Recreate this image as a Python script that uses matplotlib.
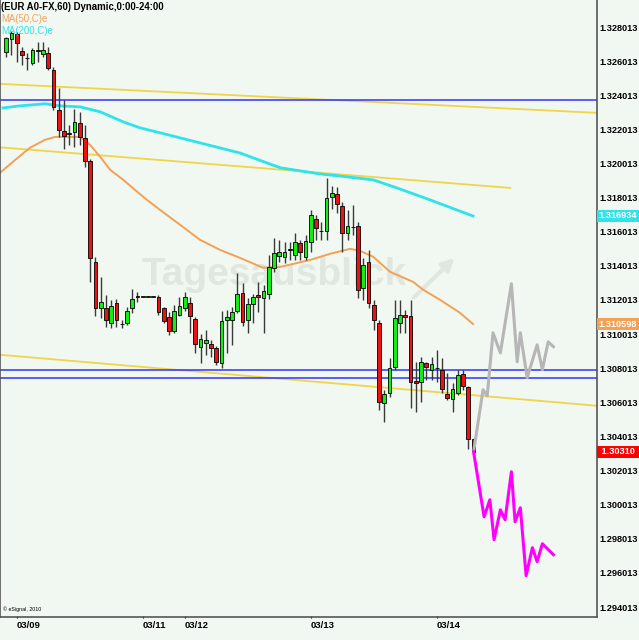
import numpy as np
import matplotlib.pyplot as plt

plt.rcParams['font.family'] = ['Liberation Sans', 'DejaVu Sans']

# Hourly EUR candles (open, high, low, close)
opens = [1.32655, 1.32731, 1.32761, 1.32661, 1.32620, 1.32591, 1.32661, 1.32644, 1.32649, 1.32550,
         1.32315, 1.32192, 1.32175, 1.32186, 1.32239, 1.32151, 1.32017, 1.31425, 1.31155, 1.31155,
         1.31067, 1.31184, 1.31061, 1.31067, 1.31155, 1.31220, 1.31220, 1.31220, 1.31220, 1.31220,
         1.31155, 1.31102, 1.31020, 1.31114, 1.31155, 1.31184, 1.31091, 1.30927, 1.30950, 1.30944,
         1.30921, 1.30833, 1.31085, 1.31085, 1.31138, 1.31243, 1.31085, 1.31179, 1.31231, 1.31214,
         1.31237, 1.31390, 1.31460, 1.31454, 1.31495, 1.31466, 1.31536, 1.31454, 1.31542, 1.31677,
         1.31607, 1.31606, 1.31806, 1.31823, 1.31753, 1.31595, 1.31630, 1.31636, 1.31272, 1.31425,
         1.31173, 1.31067, 1.30598, 1.30657, 1.30809, 1.31067, 1.31114, 1.31108, 1.30727, 1.30721,
         1.30833, 1.30792, 1.30804, 1.30792, 1.30651, 1.30622, 1.30657, 1.30768, 1.30692, 1.30387]
highs = [1.32743, 1.32778, 1.32772, 1.32685, 1.32649, 1.32679, 1.32714, 1.32714, 1.32685, 1.32567,
         1.32444, 1.32374, 1.32228, 1.32321, 1.32304, 1.32228, 1.32028, 1.31454, 1.31337, 1.31231,
         1.31202, 1.31208, 1.31085, 1.31161, 1.31266, 1.31249, 1.31220, 1.31220, 1.31220, 1.31231,
         1.31161, 1.31132, 1.31173, 1.31220, 1.31249, 1.31220, 1.31102, 1.31003, 1.31026, 1.30968,
         1.30932, 1.31138, 1.31143, 1.31161, 1.31360, 1.31300, 1.31214, 1.31237, 1.31307, 1.31290,
         1.31466, 1.31565, 1.31554, 1.31542, 1.31542, 1.31595, 1.31554, 1.31583, 1.31729, 1.31700,
         1.31659, 1.31917, 1.31870, 1.31864, 1.31776, 1.31729, 1.31759, 1.31659, 1.31448, 1.31495,
         1.31202, 1.31085, 1.30675, 1.30862, 1.31202, 1.31202, 1.31143, 1.31202, 1.30839, 1.30868,
         1.30839, 1.30868, 1.30909, 1.30862, 1.30774, 1.30716, 1.30792, 1.30792, 1.30698, 1.30393]
lows = [1.32626, 1.32638, 1.32597, 1.32579, 1.32550, 1.32579, 1.32597, 1.32626, 1.32550, 1.32315,
        1.32157, 1.32087, 1.32110, 1.32099, 1.32110, 1.31981, 1.31307, 1.31108, 1.31097, 1.31044,
        1.31038, 1.31044, 1.31038, 1.31055, 1.31126, 1.31190, 1.31220, 1.31220, 1.31220, 1.31114,
        1.31067, 1.30997, 1.31009, 1.31108, 1.31138, 1.31009, 1.30891, 1.30833, 1.30880, 1.30868,
        1.30821, 1.30804, 1.30891, 1.30938, 1.31126, 1.31050, 1.31009, 1.31067, 1.31132, 1.31009,
        1.31208, 1.31366, 1.31425, 1.31419, 1.31436, 1.31436, 1.31436, 1.31436, 1.31483, 1.31554,
        1.31554, 1.31554, 1.31735, 1.31712, 1.31483, 1.31554, 1.31583, 1.31214, 1.31202, 1.31155,
        1.31026, 1.30557, 1.30487, 1.30634, 1.30792, 1.31009, 1.31009, 1.30569, 1.30546, 1.30604,
        1.30733, 1.30733, 1.30721, 1.30657, 1.30616, 1.30546, 1.30645, 1.30675, 1.30329, 1.30305]
closes = [1.32737, 1.32767, 1.32708, 1.32638, 1.32617, 1.32667, 1.32664, 1.32667, 1.32562, 1.32333,
          1.32198, 1.32163, 1.32181, 1.32245, 1.32157, 1.32017, 1.31448, 1.31155, 1.31190, 1.31085,
          1.31167, 1.31085, 1.31058, 1.31138, 1.31208, 1.31219, 1.31220, 1.31220, 1.31220, 1.31132,
          1.31079, 1.31020, 1.31138, 1.31167, 1.31220, 1.31108, 1.30944, 1.30973, 1.30968, 1.30921,
          1.30839, 1.31079, 1.31102, 1.31132, 1.31237, 1.31073, 1.31179, 1.31220, 1.31220, 1.31255,
          1.31395, 1.31477, 1.31483, 1.31483, 1.31498, 1.31542, 1.31483, 1.31548, 1.31700, 1.31624,
          1.31604, 1.31800, 1.31829, 1.31765, 1.31595, 1.31636, 1.31627, 1.31261, 1.31407, 1.31184,
          1.31085, 1.30604, 1.30651, 1.30804, 1.31097, 1.31114, 1.31102, 1.30721, 1.30716, 1.30839,
          1.30809, 1.30827, 1.30801, 1.30680, 1.30628, 1.30680, 1.30763, 1.30698, 1.30387, 1.30311]

# Moving averages (bar index, price)
ma50_x = [-1.2, 1.7, 4.5, 7.4, 9.3, 14.1, 16.0, 17.9, 19.8, 22.3, 24.5, 26.8, 29.3, 33.1, 36.9,
          40.7, 44.5, 48.9, 52.2, 57.9, 61.7, 65.5, 67.4, 69.9, 73.1, 77.5, 79.4, 82.6, 86.4, 88.9]
ma50_y = [1.31946, 1.32022, 1.32093, 1.32140, 1.32157, 1.32157, 1.32110, 1.32040, 1.31964, 1.31905,
          1.31847, 1.31788, 1.31729, 1.31642, 1.31554, 1.31495, 1.31448, 1.31390, 1.31395, 1.31436,
          1.31472, 1.31501, 1.31489, 1.31454, 1.31366, 1.31307, 1.31261, 1.31202, 1.31126, 1.31060]
ma200_x = [-0.6, 2.6, 7.4, 10.3, 14.1, 17.9, 22.3, 25.5, 29.3, 36.9, 44.5, 52.2, 59.8, 64.9, 69.9,
           74.4, 80.7, 88.9]
ma200_y = [1.32327, 1.32339, 1.32351, 1.32339, 1.32333, 1.32304, 1.32245, 1.32210, 1.32181, 1.32122,
           1.32063, 1.31976, 1.31940, 1.31923, 1.31905, 1.31858, 1.31788, 1.31693]

# Projected paths after the last bar
grey_x = [89, 90.8, 91.6, 92.7, 94.1, 96.2, 97.3, 97.9, 99.2, 101.1, 102.1, 103.2, 104.2]
grey_y = [1.30311, 1.30675, 1.30639, 1.31009, 1.30891, 1.31296, 1.30839, 1.31009, 1.30745, 1.30938,
          1.30792, 1.30956, 1.30927]
pink_x = [89, 91.0, 92.1, 92.9, 94.1, 95.0, 96.2, 96.9, 97.9, 99.0, 100.2, 101.1, 102.1, 104.2]
pink_y = [1.30311, 1.29930, 1.30030, 1.29796, 1.29971, 1.29913, 1.30194, 1.29901, 1.29983, 1.29585,
          1.29749, 1.29667, 1.29772, 1.29708]

# Trend lines (start/end) and horizontal levels
trend_x = [(-1.2, 112.5), (-1.2, 96.0), (-1.2, 112.5)]
trend_y = [(1.32468, 1.32298), (1.32096, 1.31858), (1.30880, 1.30581)]
levels = [1.32374, 1.30792, 1.30745]

day_pos = [2, 26, 34, 58, 82]
day_lab = ['03/09', '03/11', '03/12', '03/13', '03/14']
price_ticks = [1.294013 + 0.002 * k for k in range(18)]

bg = '#f1f8f1'
fig = plt.figure(figsize=(6.39, 6.40), dpi=100, facecolor=bg)
ax = fig.add_axes([0, 23 / 640, 597 / 639, 617 / 640], facecolor=bg)

ax.text(0.46, 0.555, 'Tagesausblick', transform=ax.transAxes, fontsize=28, fontweight='bold',
        color='#dfe7df', ha='center', va='center', zorder=0)
ax.annotate('', xy=(0.765, 0.585), xytext=(0.69, 0.515), xycoords='axes fraction',
            arrowprops=dict(arrowstyle='-|>', color='#dfe7df', lw=3, mutation_scale=18), zorder=0)

for (x0, x1), (y0, y1) in zip(trend_x, trend_y):
    ax.plot([x0, x1], [y0, y1], color='#f0d44a', lw=1.3, zorder=1)
for lv in levels:
    ax.axhline(lv, color='#3030ff', lw=1.1, zorder=1)

ax.plot(ma50_x, ma50_y, color='#f4a055', lw=1.4, zorder=2)
ax.plot(ma200_x, ma200_y, color='#2fe3ea', lw=2.0, zorder=2)

x = np.arange(len(opens))
o = np.array(opens)
c = np.array(closes)
up = c >= o
ax.vlines(x, lows, highs, color='#3a3a3a', lw=1.0, zorder=3)
body = np.maximum(np.abs(c - o), 0.00003)
ax.bar(x, body, bottom=np.minimum(o, c), width=0.72,
       color=np.where(up, '#11ee11', '#ee1111'), edgecolor='black', linewidth=0.6, zorder=4)

ax.plot(grey_x, grey_y, color='#b6b6b6', lw=2.2, zorder=5)
ax.plot(pink_x, pink_y, color='#ff00ff', lw=2.2, zorder=5)

ax.set_xlim(-1.18, 112.5)
ax.set_ylim(1.293427, 1.329596)

ax.yaxis.tick_right()
ax.set_yticks(price_ticks)
ax.set_yticklabels([f'{v:.6f}' for v in price_ticks], fontsize=6.6, fontweight='bold')
ax.tick_params(axis='y', length=0, pad=2)
ax.set_xticks(day_pos)
ax.set_xticklabels(day_lab, fontsize=6.8, fontweight='bold', ha='left')
ax.tick_params(axis='x', length=2, pad=2, direction='inout')
for s in ['left', 'bottom', 'right']:
    ax.spines[s].set_color('#555555')
    ax.spines[s].set_linewidth(1.2)
ax.spines['top'].set_visible(False)

# Current values boxes on the price scale
tr = ax.get_yaxis_transform()
for val, txt, col in [(1.316934, '1.316934', '#2fe3ea'), (1.310598, '1.310598', '#f4a055'),
                      (1.30310, ' 1.30310 ', '#ff0000')]:
    ax.text(1.003, val, txt, transform=tr, ha='left', va='center', fontsize=6.6, fontweight='bold',
            color='white', zorder=6, bbox=dict(boxstyle='square,pad=0.2', fc=col, ec='none'))

fig.text(1 / 639, 1 - 7 / 640, '(EUR A0-FX,60) Dynamic,0:00-24:00', fontsize=6.9,
         fontweight='bold', va='center')
fig.text(1 / 639, 1 - 18.5 / 640, 'MA(50,C)e', fontsize=6.9, color='#f4a055', va='center')
fig.text(1 / 639, 1 - 30.5 / 640, 'MA(200,C)e', fontsize=6.9, color='#2fe3ea', va='center')
ax.text(0.005, 0.008, '\u00a9 eSignal, 2010', transform=ax.transAxes, fontsize=3.8, va='bottom')

fig.savefig('out.png', dpi=100, facecolor=bg)
